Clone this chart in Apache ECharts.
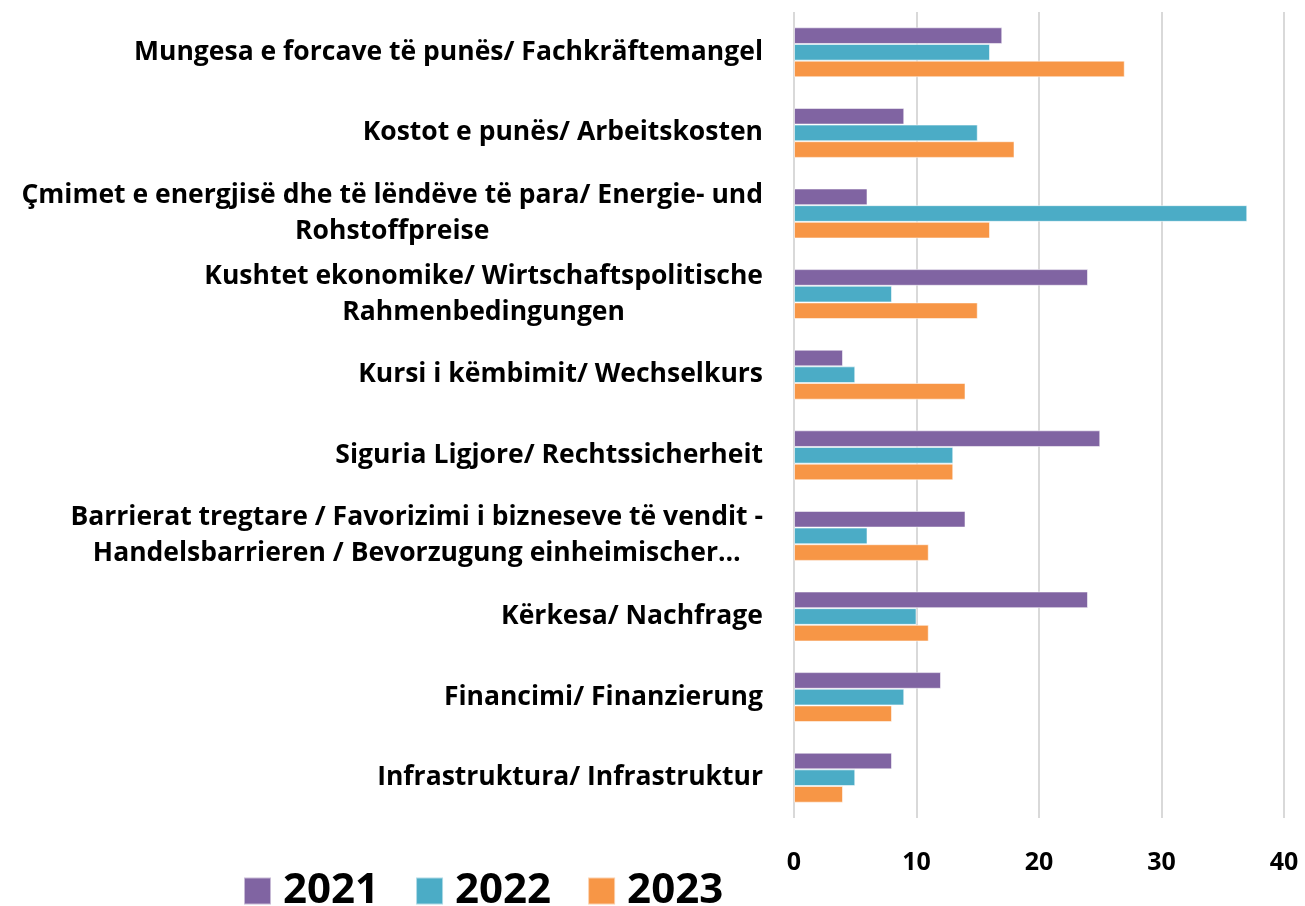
<!DOCTYPE html>
<html>
<head>
<meta charset="utf-8">
<script src="https://cdn.jsdelivr.net/npm/echarts@6/dist/echarts.min.js"></script>
<style>
  html, body { margin: 0; padding: 0; background: #fff; }
  #chart { width: 1305px; height: 906px; }
</style>
</head>
<body>
<div id="chart"></div>
<script>
// kategoritë (nga lart poshtë)
var categories = [
  "Mungesa e forcave të punës/ Fachkräftemangel",
  "Kostot e punës/ Arbeitskosten",
  "Çmimet e energjisë dhe të lëndëve të para/ Energie- und\nRohstoffpreise",
  "Kushtet ekonomike/ Wirtschaftspolitische\nRahmenbedingungen",
  "Kursi i këmbimit/ Wechselkurs",
  "Siguria Ligjore/ Rechtssicherheit",
  "Barrierat tregtare / Favorizimi i bizneseve të vendit -\nHandelsbarrieren / Bevorzugung einheimischer…",
  "Kërkesa/ Nachfrage",
  "Financimi/ Finanzierung",
  "Infrastruktura/ Infrastruktur"
];
var years = ["2021", "2022", "2023"];
var values2021 = [17, 9, 6, 24, 4, 25, 14, 24, 12, 8];
var values2022 = [16, 15, 37, 8, 5, 13, 6, 10, 9, 5];
var values2023 = [27, 18, 16, 15, 14, 13, 11, 11, 8, 4];
var xTicks = [0, 10, 20, 30, 40];

var colors = ['#8064A2', '#4BACC6', '#F79646'];
var FONT = '"Open Sans", "DejaVu Sans", sans-serif';

var chart = echarts.init(document.getElementById('chart'));

function makeSeries(name, data, i) {
  return {
    name: name,
    type: 'bar',
    data: data,
    barGap: '0%',
    barCategoryGap: '38%',
    itemStyle: {
      color: colors[i],
      borderColor: 'rgba(255,255,255,0.55)',
      borderWidth: 1
    },
    emphasis: { disabled: true }
  };
}

var option = {
  backgroundColor: '#ffffff',
  animation: false,
  color: colors,
  textStyle: { fontFamily: FONT },
  grid: { left: 794, right: 21, top: 12, bottom: 88, containLabel: false },
  xAxis: {
    type: 'value',
    min: xTicks[0],
    max: xTicks[xTicks.length - 1],
    interval: 10,
    axisLine: { show: false },
    axisTick: { show: false },
    splitLine: { lineStyle: { color: '#d9d9d9', width: 2 } },
    axisLabel: {
      margin: 32,
      color: '#000',
      fontFamily: FONT,
      fontWeight: 'bold',
      fontSize: 25
    }
  },
  yAxis: {
    type: 'category',
    data: categories,
    inverse: true,
    axisLine: { show: false },
    axisTick: { show: false },
    axisLabel: {
      margin: 31,
      color: '#000',
      formatter: function (v) {
        return v.split('\n').map(function (l) { return '{c|' + l + '}'; }).join('\n');
      },
      rich: {
        c: {
          align: 'center',
          color: '#000',
          fontFamily: FONT,
          fontWeight: 'bold',
          fontSize: 26.5,
          lineHeight: 36
        }
      }
    }
  },
  legend: {
    data: years,
    left: 238,
    top: 865,
    icon: 'rect',
    itemWidth: 27,
    itemHeight: 27,
    itemGap: 36,
    textStyle: {
      color: '#000',
      fontFamily: FONT,
      fontWeight: 'bold',
      fontSize: 42,
      padding: [0, 0, 0, 7]
    }
  },
  series: [
    makeSeries(years[0], values2021, 0),
    makeSeries(years[1], values2022, 1),
    makeSeries(years[2], values2023, 2)
  ]
};

chart.setOption(option);
</script>
</body>
</html>
